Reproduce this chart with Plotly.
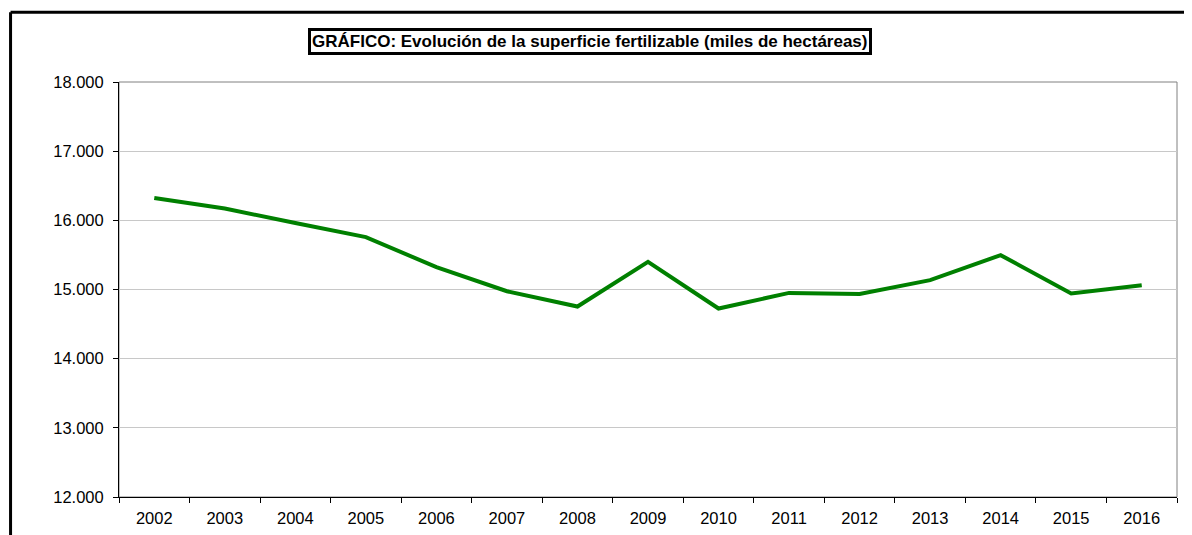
import plotly.graph_objects as go

years = ["2002", "2003", "2004", "2005", "2006", "2007", "2008", "2009",
         "2010", "2011", "2012", "2013", "2014", "2015", "2016"]
superficie = [16323, 16170, 15961, 15758, 15323, 14975, 14754, 15400,
              14725, 14951, 14936, 15135, 15497, 14942, 15062]
y_ticks = [12000, 13000, 14000, 15000, 16000, 17000, 18000]

titulo = "GRÁFICO: Evolución de la superficie fertilizable (miles de hectáreas)"

fig = go.Figure()

fig.add_trace(
    go.Scatter(
        x=years,
        y=superficie,
        mode="lines",
        line=dict(color="#008000", width=4),
        showlegend=False,
    )
)

# plot area frame (grey)
fig.add_shape(type="rect", xref="paper", yref="paper", x0=0, x1=1, y0=0, y1=1,
              line=dict(color="#808080", width=1), layer="below")
# outer black border of the chart (only top and left edges are in view)
fig.add_shape(type="line", xref="paper", yref="paper", x0=-0.1025, x1=1.1,
              y0=1.168, y1=1.168, line=dict(color="black", width=3))
fig.add_shape(type="line", xref="paper", yref="paper", x0=-0.1025, x1=-0.1025,
              y0=-0.2, y1=1.168, line=dict(color="black", width=3))

fig.add_annotation(
    text="<b>" + titulo + "</b>",
    xref="paper", yref="paper", x=0.445, y=1.097,
    xanchor="center", yanchor="middle", showarrow=False,
    font=dict(family="Arial, Liberation Sans", size=17, color="black"),
    bordercolor="black", borderwidth=3, borderpad=1, bgcolor="white",
)

fig.update_xaxes(
    type="category",
    range=[-0.5, 14.5],
    tickson="boundaries",
    ticks="outside", ticklen=5, tickcolor="black",
    showline=True, linecolor="black", linewidth=1,
    showgrid=False,
    automargin=False,
    ticklabelstandoff=6,
    tickfont=dict(family="Arial, Liberation Sans", size=16.5, color="black"),
)
fig.update_yaxes(
    range=[12000, 18000],
    tickvals=y_ticks,
    tickformat=",d",
    ticks="outside", ticklen=5, tickcolor="black",
    showline=True, linecolor="black", linewidth=1,
    showgrid=True, gridcolor="#c8c8c8", gridwidth=1,
    zeroline=False,
    automargin=False,
    ticklabelstandoff=6,
    tickfont=dict(family="Arial, Liberation Sans", size=16.5, color="black"),
)

# the page body has an 8px margin, so the figure is a bit smaller and offset
fig.update_layout(
    width=1184,
    height=527,
    margin=dict(l=111, r=15, t=74, b=38),
    paper_bgcolor="white",
    plot_bgcolor="white",
    separators=",.",
)

fig.write_html("out.html", post_script="document.body.style.overflow = 'hidden';")
